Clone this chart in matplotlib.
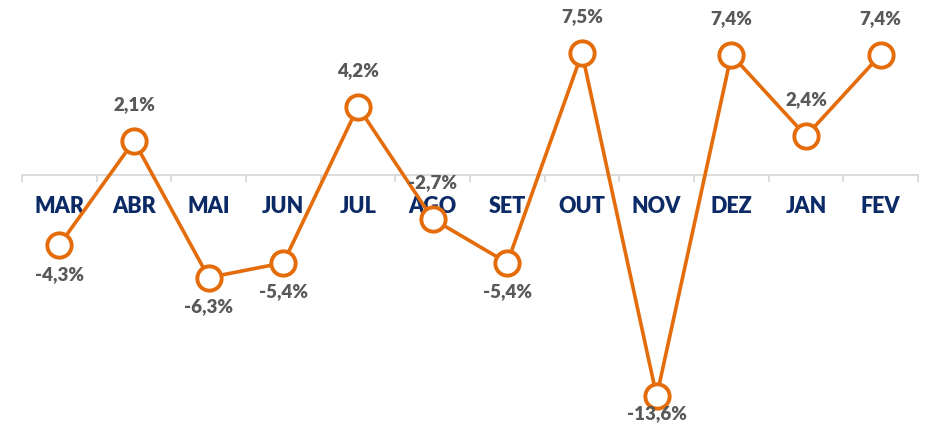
import matplotlib
matplotlib.use("Agg")
import matplotlib.pyplot as plt

months = ["MAR", "ABR", "MAI", "JUN", "JUL", "AGO", "SET", "OUT", "NOV", "DEZ", "JAN", "FEV"]
values = [-4.3, 2.1, -6.3, -5.4, 4.2, -2.7, -5.4, 7.5, -13.6, 7.4, 2.4, 7.4]
labels = ["-4,3%", "2,1%", "-6,3%", "-5,4%", "4,2%", "-2,7%", "-5,4%", "7,5%", "-13,6%", "7,4%", "2,4%", "7,4%"]

ORANGE = "#E46C0A"
NAVY = "#0B2A66"
GRAY = "#595959"
AXIS = "#D9D9D9"

plt.rcParams['font.family'] = ['Lato', 'DejaVu Sans']

fig = plt.figure(figsize=(9.25, 4.28), dpi=100)
ax = fig.add_axes([0, 0, 1, 1])
x = list(range(len(months)))

ax.plot(x, values, color=ORANGE, lw=2.6, marker='o', ms=17.5, mfc='white',
        mec=ORANGE, mew=2.8, zorder=3, solid_joinstyle='round')

ax.set_xlim(-0.795, 11.594)
ax.set_ylim(-15.55, 10.76)

for s in ['top', 'left', 'right']:
    ax.spines[s].set_visible(False)
ax.spines['bottom'].set_position(('data', 0))
ax.spines['bottom'].set_color(AXIS)
ax.spines['bottom'].set_linewidth(1.3)
ax.spines['bottom'].set_bounds(-0.5, 11.5)
ax.set_yticks([])
ax.set_xticks([i - 0.5 for i in range(len(months) + 1)])
ax.set_xticklabels([])
ax.tick_params(axis='x', direction='out', length=5, width=1.3, color=AXIS)

for i, m in enumerate(months):
    ax.annotate(m, (i, 0), xytext=(0, -23), textcoords='offset points',
                ha='center', va='center', fontsize=15.5, fontweight='heavy',
                color=NAVY, zorder=2)

fig.canvas.draw()
for i, (v, lab) in enumerate(zip(values, labels)):
    above = v > 0 or i == 5
    if above:
        dy = 26
    else:
        py = ax.transData.transform((i, v))[1]
        max_drop = (py - 14.0) * 72.0 / fig.dpi
        dy = -min(21, max_drop)
    ax.annotate(lab, (i, v), xytext=(0, dy), textcoords='offset points',
                ha='center', va='center', fontsize=13.5, fontweight='heavy',
                color=GRAY, zorder=4)

fig.savefig("out.png", dpi=100)
